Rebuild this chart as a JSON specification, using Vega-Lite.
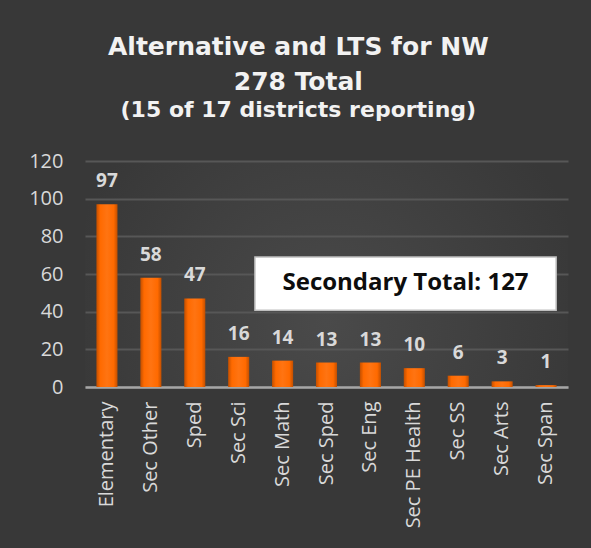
{
  "$schema": "https://vega.github.io/schema/vega-lite/v6.json",
  "width": 483,
  "height": 226,
  "autosize": "none",
  "padding": {"left": 85, "top": 161, "right": 23, "bottom": 161},
  "background": "#383838",
  "title": {
    "text": ["Alternative and LTS for NW", "278 Total"],
    "subtitle": "(15 of 17 districts reporting)",
    "anchor": "middle",
    "frame": "bounds",
    "font": "DejaVu Sans",
    "fontSize": 25,
    "fontWeight": "bold",
    "lineHeight": 35,
    "color": "#f2f2f2",
    "subtitleFont": "DejaVu Sans",
    "subtitleFontSize": 22,
    "subtitleFontWeight": "bold",
    "subtitleColor": "#f2f2f2",
    "subtitlePadding": 5,
    "offset": 30
  },
  "config": {
    "view": {"stroke": null, "fill": {"gradient": "radial", "x1": 0.5, "y1": 0.6, "r1": 0, "x2": 0.5, "y2": 0.6, "r2": 0.55, "stops": [{"offset": 0, "color": "#4a4a4a"}, {"offset": 1, "color": "#383838"}]}},
    "font": "Open Sans",
    "axisY": {
      "values": [0, 20, 40, 60, 80, 100, 120], "tickCount": 7, "labelFontSize": 20,
      "labelColor": "#d9d9d9", "labelPadding": 22, "ticks": false, "domain": false,
      "gridColor": "#575757", "gridWidth": 2, "labelFont": "Open Sans", "labelOverlap": false, "title": null
    }
  },
  "datasets": {
    "bars": [
      {"category": "Elementary", "count": 97},
      {"category": "Sec Other", "count": 58},
      {"category": "Sped", "count": 47},
      {"category": "Sec Sci", "count": 16},
      {"category": "Sec Math", "count": 14},
      {"category": "Sec Sped", "count": 13},
      {"category": "Sec Eng", "count": 13},
      {"category": "Sec PE Health", "count": 10},
      {"category": "Sec SS", "count": 6},
      {"category": "Sec Arts", "count": 3},
      {"category": "Sec Span", "count": 1}
    ],
    "note": [
      {"label": "Secondary Total: 127", "x0": 3.87, "x1": 10.73, "xm": 7.3, "y0": 40.8, "y1": 69, "ym": 55}
    ]
  },
  "layer": [
    {
      "data": {"name": "bars"},
      "layer": [
        {
          "mark": {
            "type": "bar",
            "fill": {"gradient": "linear", "x1": 0, "y1": 0, "x2": 1, "y2": 0, "stops": [
              {"offset": 0, "color": "#c24f00"},
              {"offset": 0.18, "color": "#ff6a00"},
              {"offset": 0.5, "color": "#ff7412"},
              {"offset": 0.82, "color": "#ff6a00"},
              {"offset": 1, "color": "#c24f00"}
            ]}
          },
          "encoding": {
            "x": {
              "field": "category", "type": "nominal", "sort": null,
              "scale": {"paddingInner": 0.52, "paddingOuter": 0.26},
              "axis": {
                "title": null, "labelAngle": -90, "labelFontSize": 20, "labelColor": "#d9d9d9",
                "labelPadding": 14, "ticks": false, "domainColor": "#a6a6a6", "domainWidth": 2.5,
                "labelFont": "Open Sans", "labelOverlap": false
              }
            },
            "y": {
              "field": "count", "type": "quantitative",
              "scale": {"domain": [0, 120], "nice": false},
              "axis": {"values": [0, 20, 40, 60, 80, 100, 120], "tickCount": 7}
            }
          }
        },
        {
          "mark": {"type": "text", "baseline": "alphabetic", "dy": -17, "fontSize": 19, "fontWeight": "bold", "color": "#d9d9d9", "font": "Open Sans"},
          "encoding": {
            "x": {"field": "category", "type": "nominal", "sort": null},
            "y": {"field": "count", "type": "quantitative", "axis": {"values": [0, 20, 40, 60, 80, 100, 120], "tickCount": 7}},
            "text": {"field": "count", "type": "quantitative"}
          }
        }
      ]
    },
    {
      "data": {"name": "note"},
      "layer": [
        {
          "mark": {"type": "rect", "fill": "white", "stroke": "#bfbfbf", "strokeWidth": 1.5},
          "encoding": {
            "x": {"field": "x0", "type": "quantitative", "scale": {"domain": [0, 11]}, "axis": null},
            "x2": {"field": "x1"},
            "y": {"field": "y0", "type": "quantitative", "axis": {"values": [0, 20, 40, 60, 80, 100, 120], "tickCount": 7}},
            "y2": {"field": "y1"}
          }
        },
        {
          "mark": {"type": "text", "fontSize": 24, "fontWeight": "bold", "color": "#0d0d0d", "font": "Open Sans", "baseline": "middle"},
          "encoding": {
            "x": {"field": "xm", "type": "quantitative", "scale": {"domain": [0, 11]}, "axis": null},
            "y": {"field": "ym", "type": "quantitative", "axis": {"values": [0, 20, 40, 60, 80, 100, 120], "tickCount": 7}},
            "text": {"field": "label", "type": "nominal"}
          }
        }
      ]
    }
  ],
  "resolve": {"scale": {"x": "independent"}}
}
